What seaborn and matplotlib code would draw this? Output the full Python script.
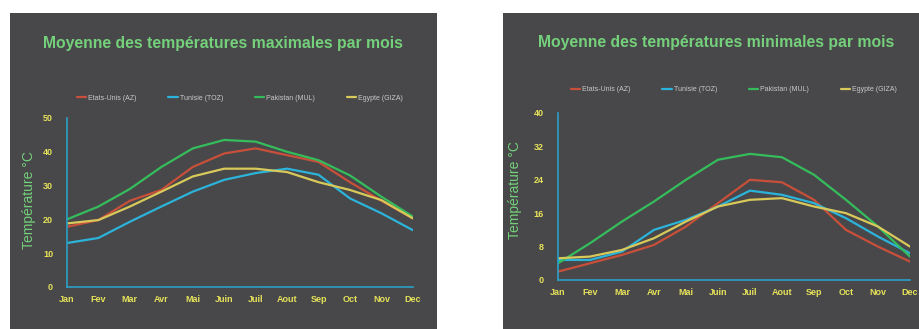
import numpy as np
import pandas as pd
import matplotlib
matplotlib.use('Agg')
import matplotlib.pyplot as plt
from matplotlib.patches import Rectangle
import seaborn as sns

months = ['Jan', 'Fev', 'Mar', 'Avr', 'Mai', 'Juin', 'Juil', 'Aout', 'Sep', 'Oct', 'Nov', 'Dec']
countries = ['Etats-Unis (AZ)', 'Tunisie (TOZ)', 'Pakistan (MUL)', 'Egypte (GIZA)']

# moyennes des max
max_usa = [17.8, 19.8, 25.5, 28.7, 35.5, 39.5, 41.0, 39.0, 37.0, 31.0, 25.5, 20.3]
max_tun = [13.0, 14.5, 19.3, 23.8, 28.2, 31.7, 33.7, 35.0, 33.2, 26.2, 21.8, 16.8]
max_pak = [20.0, 23.8, 29.0, 35.5, 41.0, 43.5, 43.0, 40.0, 37.5, 33.0, 26.7, 20.8]
max_egy = [18.8, 19.8, 23.8, 28.2, 32.7, 35.0, 35.0, 34.0, 31.0, 28.7, 25.7, 20.3]

# moyennes des min
min_usa = [2.0, 4.0, 6.0, 8.4, 12.8, 18.4, 24.0, 23.4, 19.2, 12.0, 8.0, 4.4]
min_tun = [4.8, 4.8, 6.8, 12.0, 14.4, 17.6, 21.4, 20.4, 18.4, 14.8, 10.4, 6.4]
min_pak = [4.0, 8.8, 14.0, 18.8, 24.0, 28.8, 30.2, 29.4, 25.2, 19.2, 12.8, 5.6]
min_egy = [5.2, 5.6, 7.2, 10.0, 14.0, 17.6, 19.2, 19.6, 17.6, 16.0, 12.8, 8.0]

max_ticks = [0, 10, 20, 30, 40, 50]
min_ticks = [0, 8, 16, 24, 32, 40]

colors = ['#c8503a', '#2cb3d9', '#35bd5c', '#d8c95a']
panel_bg = '#48484a'
title_green = '#74d07a'
tick_yellow = '#e6e25a'
spine_blue = '#2a9fc7'

sns.set_style('dark')
plt.rcParams['font.family'] = ['Liberation Sans', 'DejaVu Sans']


def make_df(series):
    rows = []
    for name, vals in zip(countries, series):
        for i, v in enumerate(vals):
            rows.append({'mois': i, 'temp': v, 'pays': name})
    return pd.DataFrame(rows)


def draw_panel(fig, rect, df, ticks, title, title_y, legend_y, ylab_xy):
    ax = fig.add_axes(rect)
    ax.set_facecolor('none')
    sns.lineplot(data=df, x='mois', y='temp', hue='pays', hue_order=countries,
                 palette=colors, linewidth=1.6, ax=ax)
    ax.set_xlim(0, 11)
    ax.set_ylim(ticks[0], ticks[-1])
    ax.set_xticks(range(12))
    ax.set_xticklabels(months)
    ax.set_yticks(ticks)
    ax.tick_params(axis='both', length=0, colors=tick_yellow, labelsize=6.5)
    ax.tick_params(axis='x', pad=6)
    ax.tick_params(axis='y', pad=10)
    for lab in ax.get_xticklabels() + ax.get_yticklabels():
        lab.set_fontweight('bold')
    ax.grid(False)
    for side in ['top', 'right']:
        ax.spines[side].set_visible(False)
    for side in ['left', 'bottom']:
        ax.spines[side].set_visible(True)
        ax.spines[side].set_color(spine_blue)
        ax.spines[side].set_linewidth(1.2)
    ax.set_xlabel('')
    ax.set_ylabel('Température °C', color=title_green, fontsize=10)
    ax.yaxis.set_label_coords(*ylab_xy)
    leg = ax.legend(loc='center', bbox_to_anchor=(0.5, legend_y), ncol=4, frameon=False,
                    fontsize=5, handlelength=1.4, handletextpad=0.3, columnspacing=4.5)
    for t in leg.get_texts():
        t.set_color('#c9c9c9')
    ax.text(0.45, title_y, title, transform=ax.transAxes, ha='center', va='center',
            color=title_green, fontsize=11.3, fontweight='bold')
    return ax


fig = plt.figure(figsize=(9.2, 3.29), dpi=100)
fig.patch.set_facecolor('white')
fig.patches.append(Rectangle((0.011, 0.0), 0.464, 0.96, transform=fig.transFigure,
                             facecolor=panel_bg, edgecolor='none', zorder=-10))
fig.patches.append(Rectangle((0.547, 0.0), 0.453, 0.96, transform=fig.transFigure,
                             facecolor=panel_bg, edgecolor='none', zorder=-10))

draw_panel(fig, [0.0728, 0.1277, 0.376, 0.5137], make_df([max_usa, max_tun, max_pak, max_egy]),
           max_ticks, 'Moyenne des températures maximales par mois', 1.438, 1.118, (-0.09, 0.515))
draw_panel(fig, [0.6065, 0.149, 0.3826, 0.5076], make_df([min_usa, min_tun, min_pak, min_egy]),
           min_ticks, 'Moyenne des températures minimales par mois', 1.425, 1.138, (-0.102, 0.54))

fig.savefig('out.png', dpi=100, facecolor=fig.get_facecolor())
